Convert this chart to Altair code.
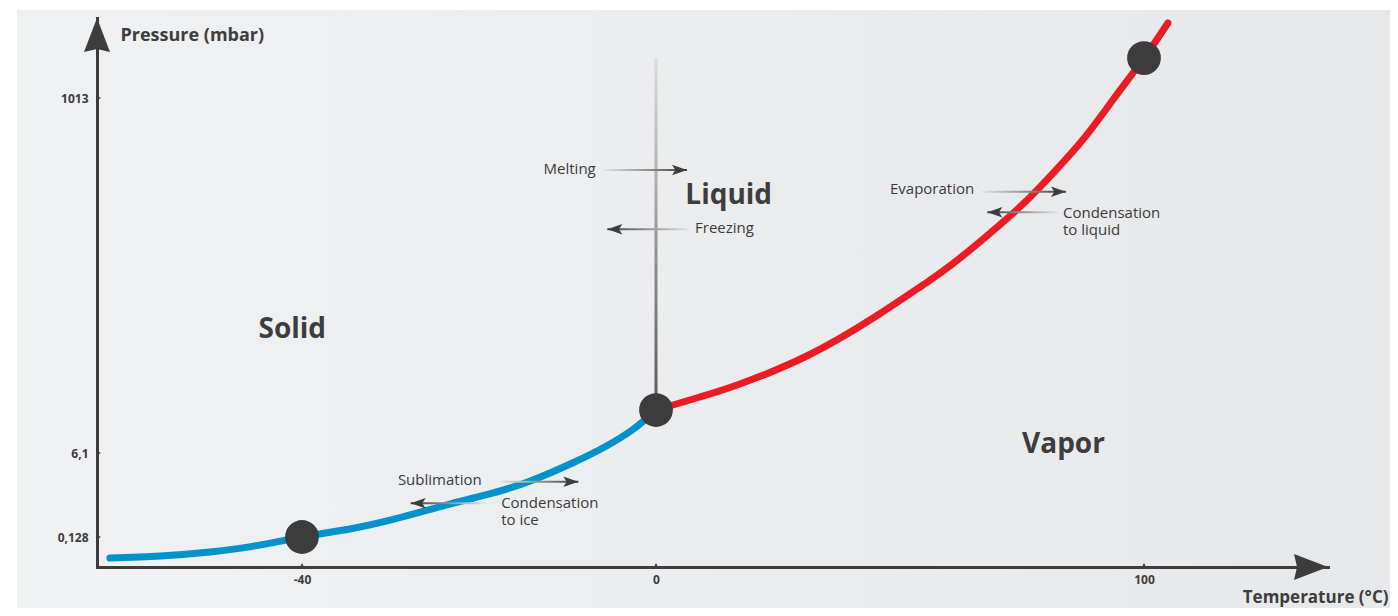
import altair as alt
import pandas as pd

# ---------------- data (temperature in °C, pressure in mbar) ----------------
# sublimation curve (solid / vapor boundary)
sub_temp = [-61.7, -56.0, -50.4, -45.3, -40.0, -34.6, -29.5, -23.3, -18.8, -14.2, -9.2, -5.8, -2.7, 0.0]
sub_pres = [0.038, 0.047, 0.064, 0.090, 0.128, 0.697, 1.41, 2.47, 3.19, 4.11, 5.46, 23.1, 71.3, 128.0]
# vaporization curve (liquid / vapor boundary)
vap_temp = [0.0, 9.0, 17.2, 30.9, 44.5, 54.7, 62.3, 73.2, 78.7, 86.9, 93.6, 100.0, 104.9]
vap_pres = [128.0, 164.9, 201.8, 281.2, 389.0, 482.6, 559.1, 686.7, 760.5, 885.3, 1007.2, 1126.4, 1225.7]
# melting line (solid / liquid boundary)
melt_temp = [0.0]
melt_top = [1126.4]
melt_bottom = [128.0]
# highlighted points
dot_temp = [-40.0, 0.0, 100.0]
dot_pres = [0.128, 128.0, 1126.4]
# axis ticks
tick_temps = [-40, 0, 100]
tick_pres = [0.128, 6.1, 1013]
axis_start_temp = -63.16
axis_end_temp = 137.7
axis_bottom_pres = 0.0
axis_top_pres = 1240.0
# phase names
phase_names = ["Solid", "Liquid", "Vapor"]
phase_temp = [-41.1, 14.9, 83.5]
phase_pres = [354.9, 735.0, 28.8]
# process labels (right aligned, before a right-pointing arrow)
proc_r_text = ["Melting", "Evaporation", "Sublimation"]
proc_r_temp = [-6.81, 65.2, -19.7]
proc_r_pres = [810.7, 754.8, 4.18]
# process labels (left aligned, after a left-pointing arrow)
proc_l_text = ["Freezing", "Condensation\nto liquid", "Condensation\nto ice"]
proc_l_temp = [8.0, 83.4, -17.5]
proc_l_pres = [643.4, 685.9, 2.52]
# arrows pointing right
arr_r_tail = [-5.88, 66.7, -17.63]
arr_r_head = [6.35, 84.0, -8.78]
arr_r_pres = [808.7, 747.2, 4.06]
# arrows pointing left
arr_l_tail = [6.76, 82.4, -19.13]
arr_l_head = [-5.50, 67.9, -27.72]
arr_l_pres = [640.5, 688.7, 2.52]

# ---------------- tables ----------------
curves = pd.DataFrame({
    "T": sub_temp + vap_temp,
    "P": sub_pres + vap_pres,
    "phase": ["solid-vapor"] * len(sub_temp) + ["liquid-vapor"] * len(vap_temp),
})
melt = pd.DataFrame({"T": melt_temp, "P": melt_top, "P2": melt_bottom})
dots = pd.DataFrame({"T": dot_temp, "P": dot_pres})
yticks = pd.DataFrame({"T": [axis_start_temp] * len(tick_pres), "P": tick_pres})
xticks = pd.DataFrame({"T": tick_temps, "P": [axis_bottom_pres] * len(tick_temps)})
ytip = pd.DataFrame({"T": [axis_start_temp], "P": [axis_top_pres]})
xtip = pd.DataFrame({"T": [axis_end_temp], "P": [axis_bottom_pres]})
phases = pd.DataFrame({"T": phase_temp, "P": phase_pres, "label": phase_names})
proc_r = pd.DataFrame({"T": proc_r_temp, "P": proc_r_pres, "label": proc_r_text})
proc_l = pd.DataFrame({"T": proc_l_temp, "P": proc_l_pres, "label": proc_l_text})
arr_r = pd.DataFrame({"T": arr_r_tail, "T2": arr_r_head, "P": arr_r_pres})
arr_l = pd.DataFrame({"T": arr_l_tail, "T2": arr_l_head, "P": arr_l_pres})
arr_r_heads = pd.DataFrame({"T": arr_r_head, "P": arr_r_pres})
arr_l_heads = pd.DataFrame({"T": arr_l_head, "P": arr_l_pres})

# ---------------- scales & axes ----------------
DARK = "#3d3d3d"
FONT = "Open Sans"

xs = alt.Scale(domain=[axis_start_temp, -40, 0, 100, axis_end_temp],
               range=[0, 205, 559, 1047, 1231], nice=False, zero=False)
ys = alt.Scale(domain=[axis_bottom_pres, 0.128, 6.1, 1013, axis_top_pres],
               range=[549, 519, 435, 80, 0], nice=False, zero=False)

xaxis = alt.Axis(values=tick_temps, labelExpr="toString(datum.value)",
                 title="Temperature (°C)", titleAngle=0, titleAlign="right",
                 titleBaseline="alphabetic", titleX=1291, titleY=35,
                 titleFont=FONT, titleFontSize=17, titleFontWeight="bold", titleColor=DARK,
                 ticks=False, tickSize=0, labelPadding=7, labelFont=FONT,
                 labelFontSize=12, labelFontWeight="bold", labelColor=DARK,
                 labelOverlap=False, labelFlush=False,
                 domainColor=DARK, domainWidth=3, domainCap="square", grid=False, zindex=1)
yaxis = alt.Axis(values=tick_pres, labelExpr="replace(toString(datum.value), '.', ',')",
                 title="Pressure (mbar)", titleAngle=0, titleAlign="left",
                 titleBaseline="middle", titleX=23, titleY=17,
                 titleFont=FONT, titleFontSize=18, titleFontWeight="bold", titleColor=DARK,
                 ticks=False, tickSize=0, labelPadding=9, labelFont=FONT,
                 labelFontSize=12, labelFontWeight="bold", labelColor=DARK,
                 labelOverlap=False, labelFlush=False,
                 domainColor=DARK, domainWidth=3, domainCap="square", grid=False, zindex=1)


def X(field="T"):
    return alt.X(f"{field}:Q", scale=xs, axis=xaxis)


def Y(field="P"):
    return alt.Y(f"{field}:Q", scale=ys, axis=yaxis)


# ---------------- gradients ----------------
bg_grad = alt.LinearGradient(gradient="linear", x1=0, y1=0, x2=1, y2=0,
                             stops=[alt.GradientStop(offset=0, color="#f0f1f3"),
                                    alt.GradientStop(offset=1, color="#e7e8ea")])
melt_grad = alt.LinearGradient(gradient="linear", x1=0, y1=0, x2=0, y2=1,
                               stops=[alt.GradientStop(offset=0, color="#dcdcdc"),
                                      alt.GradientStop(offset=1, color="#585858")])
right_grad = alt.LinearGradient(gradient="linear", x1=0, y1=0, x2=1, y2=0,
                                stops=[alt.GradientStop(offset=0, color="#e2e3e5"),
                                       alt.GradientStop(offset=0.55, color="#8c8c8c"),
                                       alt.GradientStop(offset=1, color=DARK)])
left_grad = alt.LinearGradient(gradient="linear", x1=0, y1=0, x2=1, y2=0,
                               stops=[alt.GradientStop(offset=0, color=DARK),
                                      alt.GradientStop(offset=0.45, color="#8c8c8c"),
                                      alt.GradientStop(offset=1, color="#e2e3e5")])

HEAD = "M0,0L-2,-0.7L-1.55,0L-2,0.7Z"
UP_ARROW = "M0,0L-0.765,2L0,1.82L0.765,2Z"
RIGHT_ARROW = "M0,0L-2,-0.765L-1.82,0L-2,0.765Z"

# ---------------- layers ----------------
background = alt.Chart(alt.Data(values=[{}])).mark_rect(fill=bg_grad).encode(
    x=alt.value(-80), x2=alt.value(1293), y=alt.value(-8), y2=alt.value(590))

melt_line = alt.Chart(melt).mark_rect(fill=melt_grad, xOffset=-1.5, x2Offset=1.5).encode(
    x=X(), x2="T:Q", y=Y(), y2="P2:Q")

curve_lines = alt.Chart(curves).mark_line(strokeWidth=7, strokeCap="round",
                                          interpolate="natural").encode(
    x=X(), y=Y(),
    color=alt.Color("phase:N", scale=alt.Scale(domain=["solid-vapor", "liquid-vapor"],
                                               range=["#0092cc", "#ed1c24"]), legend=None))

shafts_r = alt.Chart(arr_r).mark_rect(fill=right_grad, yOffset=-1, y2Offset=1).encode(
    x=X(), x2="T2:Q", y=Y(), y2="P:Q")
shafts_l = alt.Chart(arr_l).mark_rect(fill=left_grad, yOffset=-1, y2Offset=1).encode(
    x=X(), x2="T2:Q", y=Y(), y2="P:Q")

heads_r = alt.Chart(arr_r_heads).mark_point(shape=HEAD, size=225, filled=True, fill=DARK,
                                            strokeWidth=0, opacity=1).encode(x=X(), y=Y())
heads_l = alt.Chart(arr_l_heads).mark_point(shape=HEAD, size=225, filled=True, fill=DARK,
                                            strokeWidth=0, opacity=1, angle=180).encode(x=X(), y=Y())

dot_layer = alt.Chart(dots).mark_circle(size=1140, color="#3c3c3c", opacity=1).encode(x=X(), y=Y())

ytick_layer = alt.Chart(yticks).mark_point(shape="M0,-1L2,0L0,1Z", size=16, filled=True,
                                           fill=DARK, strokeWidth=0, opacity=1).encode(x=X(), y=Y())
xtick_layer = alt.Chart(xticks).mark_point(shape="M-1,0L0,-2L1,0Z", size=16, filled=True,
                                           fill=DARK, strokeWidth=0, opacity=1).encode(x=X(), y=Y())
ytip_layer = alt.Chart(ytip).mark_point(shape=UP_ARROW, size=1156, filled=True, fill=DARK,
                                        strokeWidth=0, opacity=1).encode(x=X(), y=Y())
xtip_layer = alt.Chart(xtip).mark_point(shape=RIGHT_ARROW, size=1156, filled=True, fill=DARK,
                                        strokeWidth=0, opacity=1).encode(x=X(), y=Y())

phase_text = alt.Chart(phases).mark_text(font=FONT, fontWeight="bold", fontSize=28, color=DARK,
                                         align="center", baseline="middle").encode(
    x=X(), y=Y(), text="label:N")
proc_r_text_layer = alt.Chart(proc_r).mark_text(font=FONT, fontSize=15, color="#3b3b3b",
                                                align="right", baseline="middle").encode(
    x=X(), y=Y(), text="label:N")
proc_l_text_layer = alt.Chart(proc_l).mark_text(font=FONT, fontSize=15, color="#3b3b3b",
                                                align="left", baseline="middle",
                                                lineBreak="\n", lineHeight=17).encode(
    x=X(), y=Y(), text="label:N")

chart = alt.layer(
    background, melt_line, curve_lines, shafts_r, shafts_l, heads_r, heads_l,
    dot_layer, ytick_layer, xtick_layer, ytip_layer, xtip_layer,
    phase_text, proc_r_text_layer, proc_l_text_layer,
).properties(
    width=1231, height=549,
    autosize=alt.AutoSizeParams(type="none"),
    padding={"left": 89, "top": 10, "right": 62, "bottom": 41},
    background="white",
).configure_view(stroke=None, fill=None).configure(font=FONT)

chart.save("out.html", embed_options={"renderer": "svg", "actions": False})
